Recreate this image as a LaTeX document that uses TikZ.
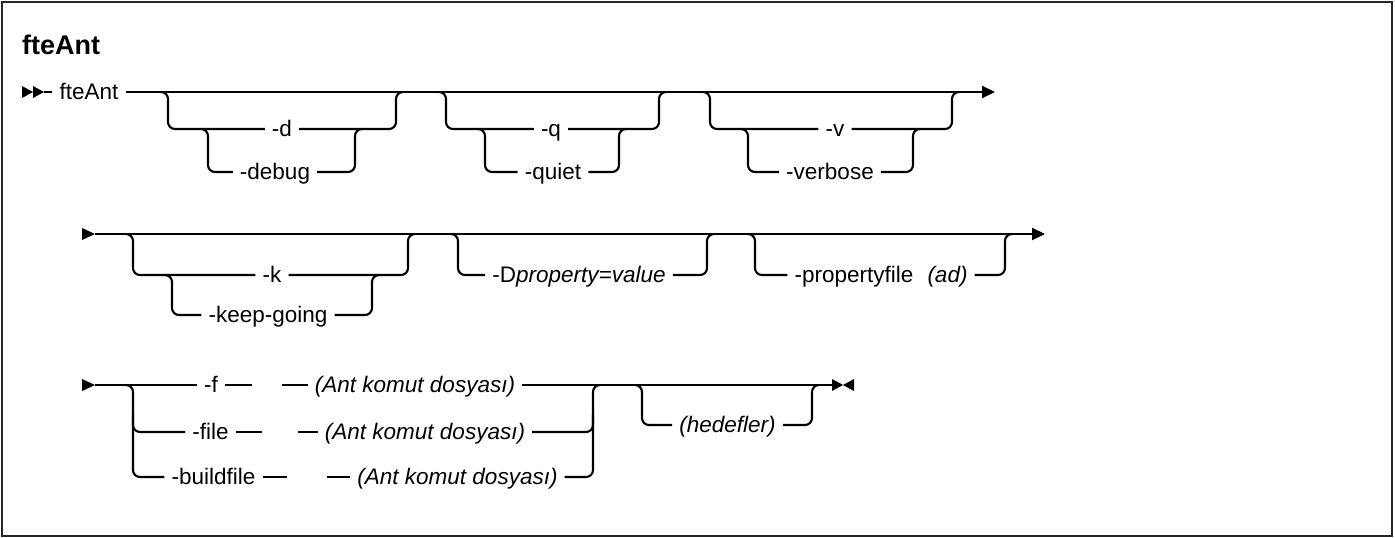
\documentclass[tikz,border=0pt]{standalone}
\usepackage{fontspec}
\setmainfont{Liberation Sans}
\usetikzlibrary{arrows.meta}
\tikzset{
  rail/.style={line width=2.1pt},
  branch/.style={rail, rounded corners=7pt},
  lbl/.style={inner xsep=7pt, inner ysep=0pt, text height=19pt, text depth=5pt, font=\fontsize{22.5}{26}\selectfont},
  arg/.style={lbl, font=\fontsize{22.5}{26}\selectfont\itshape},
  endarrow/.style={-{Triangle[length=13pt,width=12pt]}},
}
\begin{document}
\begin{tikzpicture}[x=1pt,y=-1pt]
\useasboundingbox (0,0) rectangle (1395,538);
\draw[line width=2.6pt, black!85] (2,2) rectangle (1392,536);
\node[anchor=base west, inner sep=0pt, font=\fontsize{27}{30}\selectfont\bfseries] (title) at (22,54) {fteAnt};

% ---------- row 1
\fill (22,86) -- (33,92) -- (22,98) -- cycle;
\fill (33,86) -- (44,92) -- (33,98) -- cycle;
\coordinate (s1) at (44,92);
\coordinate (e1) at (995,92);
\node[lbl] (cmd) at (89,92) {fteAnt};
\draw[rail] (s1) -- (cmd);
\draw[rail, endarrow] (cmd) -- (e1);

% group -d / -debug
\coordinate (g1l) at (161,92);  \coordinate (g1r) at (396,92);
\coordinate (g1il) at (201,129); \coordinate (g1ir) at (355,129);
\node[lbl] (d) at (282,129) {-d};
\node[lbl] (debug) at (275,172) {-debug};
\draw[branch] (g1l) -- ++(7,0) |- (d);
\draw[branch] (d) -| (g1r) -- ++(7,0);
\draw[branch] (g1il) -- ++(7,0) |- (debug);
\draw[branch] (debug) -| (g1ir) -- ++(7,0);

% group -q / -quiet
\coordinate (g2l) at (439,92);  \coordinate (g2r) at (659,92);
\coordinate (g2il) at (478,129); \coordinate (g2ir) at (619,129);
\node[lbl] (q) at (551,129) {-q};
\node[lbl] (quiet) at (553,172) {-quiet};
\draw[branch] (g2l) -- ++(7,0) |- (q);
\draw[branch] (q) -| (g2r) -- ++(7,0);
\draw[branch] (g2il) -- ++(7,0) |- (quiet);
\draw[branch] (quiet) -| (g2ir) -- ++(7,0);

% group -v / -verbose
\coordinate (g3l) at (703,92);  \coordinate (g3r) at (952,92);
\coordinate (g3il) at (741,129); \coordinate (g3ir) at (913,129);
\node[lbl] (v) at (835,129) {-v};
\node[lbl] (verbose) at (830,172) {-verbose};
\draw[branch] (g3l) -- ++(7,0) |- (v);
\draw[branch] (v) -| (g3r) -- ++(7,0);
\draw[branch] (g3il) -- ++(7,0) |- (verbose);
\draw[branch] (verbose) -| (g3ir) -- ++(7,0);

% ---------- row 2
\fill (82,228) -- (95,234) -- (82,240) -- cycle;
\coordinate (s2) at (95,234);
\coordinate (e2) at (1045,234);
\draw[rail, endarrow] (s2) -- (e2);

% group -k / -keep-going
\coordinate (g4l) at (126,234);  \coordinate (g4r) at (408,234);
\coordinate (g4il) at (165,275); \coordinate (g4ir) at (372,275);
\node[lbl] (k) at (272,275) {-k};
\node[lbl] (keep) at (268,315) {-keep-going};
\draw[branch] (g4l) -- ++(7,0) |- (k);
\draw[branch] (k) -| (g4r) -- ++(7,0);
\draw[branch] (g4il) -- ++(7,0) |- (keep);
\draw[branch] (keep) -| (g4ir) -- ++(7,0);

% group -Dproperty=value
\coordinate (g5l) at (451,234);  \coordinate (g5r) at (707,234);
\node[lbl] (dprop) at (579,275) {-D\textit{property=value}};
\draw[branch] (g5l) -- ++(7,0) |- (dprop);
\draw[branch] (dprop) -| (g5r) -- ++(7,0);

% group -propertyfile (ad)
\coordinate (g6l) at (748,234);  \coordinate (g6r) at (1005,234);
\node[lbl] (pf) at (854,275) {-propertyfile};
\node[arg] (ad) at (947.5,275) {(ad)};
\draw[branch] (g6l) -- ++(7,0) |- (pf);
\draw[branch] (ad) -| (g6r) -- ++(7,0);

% ---------- row 3
\fill (82,379) -- (95,385) -- (82,391) -- cycle;
\coordinate (s3) at (95,385);
\coordinate (e3) at (832,385);
\fill (832,379) -- (843,385) -- (832,391) -- cycle;
\fill (854,379) -- (843,385) -- (854,391) -- cycle;

\node[lbl] (f) at (211,385) {-f};
\node[arg] (ant1) at (415,385) {(Ant komut dosyası)};
\coordinate (fa) at (252,385); \coordinate (fb) at (282,385);
\draw[rail] (s3) -- (f);
\draw[rail] (f) -- (fa);
\draw[rail] (fb) -- (ant1);
\draw[rail] (ant1) -- (e3);

\node[lbl] (file) at (210.5,432) {-file};
\node[arg] (ant2) at (425,432) {(Ant komut dosyası)};
\coordinate (fc) at (262,432); \coordinate (fd) at (298,432);
\draw[rail] (file) -- (fc);
\draw[rail] (fd) -- (ant2);

\node[lbl] (build) at (213.5,477) {-buildfile};
\node[arg] (ant3) at (457.5,477) {(Ant komut dosyası)};
\coordinate (fe) at (287,477); \coordinate (ff) at (327,477);
\draw[rail] (build) -- (fe);
\draw[rail] (ff) -- (ant3);

\coordinate (g7l) at (126,385); \coordinate (g7lb) at (133,415);
\coordinate (g7r) at (593,385); \coordinate (g7rb) at (593,415);
\draw[branch] (g7l) -- ++(7,0) |- (build);
\draw[branch] (g7lb) |- (file);
\draw[branch] (ant3) -| (g7r) -- ++(7,0);
\draw[branch] (ant2) -| (g7rb);

% group (hedefler)
\coordinate (g8l) at (635,385); \coordinate (g8r) at (812,385);
\node[arg] (hed) at (727.5,425) {(hedefler)};
\draw[branch] (g8l) -- ++(7,0) |- (hed);
\draw[branch] (hed) -| (g8r) -- ++(7,0);
\end{tikzpicture}
\end{document}
